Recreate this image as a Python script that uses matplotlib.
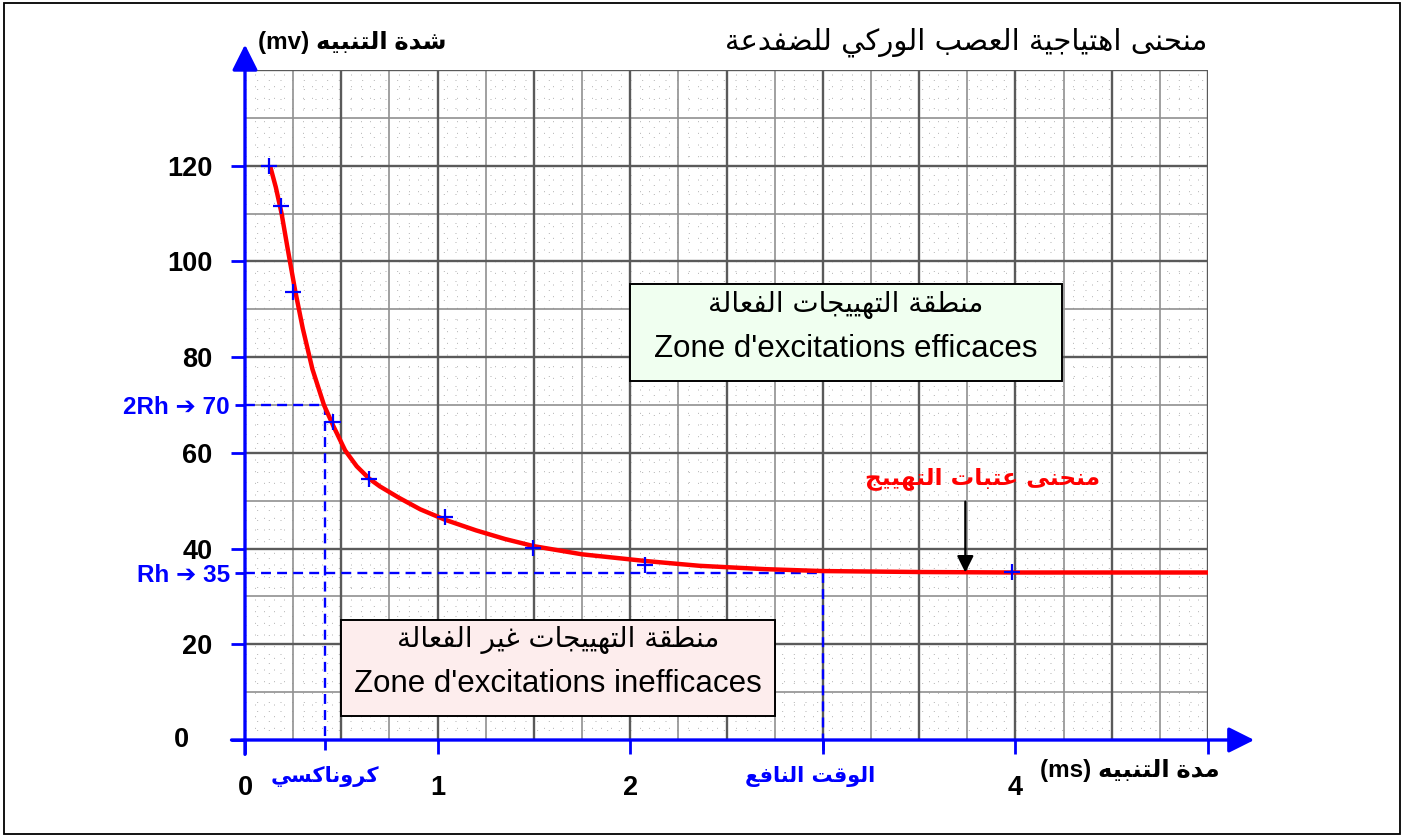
import matplotlib
matplotlib.use("Agg")
import matplotlib.pyplot as plt
from matplotlib.patches import Rectangle
import numpy as np

# ---------------- data ----------------
curve_t = [0.13, 0.16, 0.19, 0.22, 0.26, 0.30, 0.35, 0.41, 0.46, 0.52, 0.58, 0.645,
           0.70, 0.80, 0.91, 1.04, 1.20, 1.35, 1.50, 1.75, 2.08, 2.36, 2.70, 3.00,
           3.50, 4.00, 4.50, 5.00]
curve_i = [120, 115.5, 110, 103, 94, 86, 77.5, 70, 65.5, 60.5, 57.2, 54.6,
           53.0, 50.6, 48.2, 46.0, 43.8, 42.0, 40.5, 38.8, 37.4, 36.4, 35.7, 35.3,
           35.1, 35.0, 35.0, 35.0]
meas_t = [0.126, 0.185, 0.25, 0.458, 0.645, 1.038, 1.496, 2.076, 3.98]
meas_i = [120, 111.5, 93.6, 66.4, 54.6, 46.5, 40.2, 36.5, 35.1]

rheobase = 35
chronaxie = 0.415
useful_time = 3.0

x_ticks = [0, 1, 2, 3, 4, 5]
x_labels = ["0", "1", "2", "", "4", ""]
y_ticks = [0, 20, 40, 60, 80, 100, 120]
y_labels = ["", "20", "40", "60", "80", "100", "120"]

title_txt = "منحنى اهتياجية العصب الوركي للضفدعة"
ylab_ar = "شدة التنبيه"
xlab_ar = "مدة التنبيه"
chron_txt = "كروناكسي"
useful_txt = "الوقت النافع"
curve_txt = "منحنى عتبات التهييج"
eff_ar = "منطقة التهييجات الفعالة"
eff_fr = "Zone d'excitations efficaces"
ineff_ar = "منطقة التهييجات غير الفعالة"
ineff_fr = "Zone d'excitations inefficaces"

# ------------- Arabic shaping (presentation forms + visual order) -------------
_DUAL = {0x0628: 0xFE8F, 0x062A: 0xFE95, 0x062B: 0xFE99, 0x062C: 0xFE9D, 0x062D: 0xFEA1,
         0x062E: 0xFEA5, 0x0633: 0xFEB1, 0x0634: 0xFEB5, 0x0635: 0xFEB9, 0x0636: 0xFEBD,
         0x0637: 0xFEC1, 0x0638: 0xFEC5, 0x0639: 0xFEC9, 0x063A: 0xFECD, 0x0641: 0xFED1,
         0x0642: 0xFED5, 0x0643: 0xFED9, 0x0644: 0xFEDD, 0x0645: 0xFEE1, 0x0646: 0xFEE5,
         0x0647: 0xFEE9, 0x064A: 0xFEF1}
_RIGHT = {0x0622: 0xFE81, 0x0623: 0xFE83, 0x0625: 0xFE87, 0x0627: 0xFE8D, 0x0629: 0xFE93,
          0x062F: 0xFEA9, 0x0630: 0xFEAB, 0x0631: 0xFEAD, 0x0632: 0xFEAF, 0x0648: 0xFEED,
          0x0649: 0xFEEF}
_LAMALEF = {0x0622: 0xFEF5, 0x0623: 0xFEF7, 0x0625: 0xFEF9, 0x0627: 0xFEFB}


def _is_ar(c):
    return c is not None and (ord(c) in _DUAL or ord(c) in _RIGHT)


def ar(text):
    chars = list(text)
    out = []
    i = 0
    n = len(chars)
    while i < n:
        c = chars[i]
        o = ord(c)
        prev = chars[i - 1] if i > 0 else None
        joins_prev = prev is not None and ord(prev) in _DUAL
        if o == 0x0644 and i + 1 < n and ord(chars[i + 1]) in _LAMALEF:
            base = _LAMALEF[ord(chars[i + 1])]
            out.append(chr(base + (1 if joins_prev else 0)))
            i += 2
            continue
        if o in _DUAL:
            nxt = chars[i + 1] if i + 1 < n else None
            joins_next = _is_ar(nxt)
            if joins_prev and joins_next:
                f = 3
            elif joins_prev:
                f = 1
            elif joins_next:
                f = 2
            else:
                f = 0
            out.append(chr(_DUAL[o] + f))
        elif o in _RIGHT:
            out.append(chr(_RIGHT[o] + (1 if joins_prev else 0)))
        else:
            out.append(c)
        i += 1
    return "".join(reversed(out))


AR = ["DejaVu Sans"]
LAT = ["Liberation Sans", "DejaVu Sans"]
BLUE = "#0000FF"

# ---------------- figure ----------------
fig = plt.figure(figsize=(14.05, 8.38), dpi=100)
fig.patch.set_facecolor("white")
fig.add_artist(Rectangle((0.003, 0.005), 0.9935, 0.9915, transform=fig.transFigure,
                         fill=False, edgecolor="black", lw=1.3))

ax = fig.add_axes([245 / 1405, 98 / 838, 963 / 1405, 670 / 838])
ax.set_xlim(0, 5)
ax.set_ylim(0, 140)
for s in ax.spines.values():
    s.set_visible(False)
ax.set_facecolor("white")

# grid (millimetre paper)
dots = (0, (1, 11))
for k in range(1, 101):
    x = k * 0.05
    if k % 10 == 0:
        ax.axvline(x, color="#5a5a5a", lw=1.7, zorder=0.5)
    elif k % 5 == 0:
        ax.axvline(x, color="#909090", lw=1.2, zorder=0.4)
    else:
        ax.axvline(x, color="#b0b0b0", lw=0.7, ls=dots, zorder=0.3)
for k in range(1, 71):
    y = k * 2
    if k % 10 == 0:
        ax.axhline(y, color="#5a5a5a", lw=1.7, zorder=0.5)
    elif k % 5 == 0:
        ax.axhline(y, color="#909090", lw=1.2, zorder=0.4)
    else:
        ax.axhline(y, color="#b0b0b0", lw=0.7, ls=dots, zorder=0.3)

# dashed construction lines
dash = (0, (4.2, 2.6))
ax.plot([0, chronaxie], [2 * rheobase, 2 * rheobase], color=BLUE, lw=1.7, ls=dash, zorder=2)
ax.plot([chronaxie, chronaxie], [2 * rheobase, 0], color=BLUE, lw=1.7, ls=dash, zorder=2)
ax.plot([0, useful_time], [rheobase, rheobase], color=BLUE, lw=1.7, ls=dash, zorder=2)
ax.plot([useful_time, useful_time], [rheobase, 0], color=BLUE, lw=1.7, ls=dash, zorder=2)

# threshold curve and measurements
ax.plot(curve_t, curve_i, color="#FF0000", lw=3.2, zorder=3, solid_capstyle="butt")
ax.plot(meas_t, meas_i, ls="none", marker="+", ms=12, mew=1.6, color=BLUE, zorder=4)

# boxes
ax.add_patch(Rectangle((2.0, 75.0), 2.242, 20.3, facecolor="#F0FFF0", edgecolor="black",
                       lw=1.4, zorder=5))
ax.text(3.12, 90.8, ar(eff_ar), family=AR, fontsize=20, ha="center", va="center", zorder=6)
ax.text(3.12, 81.8, eff_fr, family=LAT, fontsize=22.5, ha="center", va="center", zorder=6)

ax.add_patch(Rectangle((0.498, 5.0), 2.254, 20.1, facecolor="#FDEDED", edgecolor="black",
                       lw=1.4, zorder=5))
ax.text(1.625, 21.0, ar(ineff_ar), family=AR, fontsize=20, ha="center", va="center", zorder=6)
ax.text(1.625, 11.8, ineff_fr, family=LAT, fontsize=22.5, ha="center", va="center", zorder=6)

# curve label and arrow
ax.text(3.83, 54.7, ar(curve_txt), family=AR, fontsize=16.8, fontweight="bold",
        color="#FF0000", ha="center", va="center", zorder=6)
ax.annotate("", xy=(3.74, rheobase), xytext=(3.74, 49.8),
            arrowprops=dict(arrowstyle="-|>,head_length=0.5,head_width=0.25",
                            color="black", lw=1.6, mutation_scale=20, shrinkA=0, shrinkB=0),
            zorder=6)

# axes with arrows
ax.annotate("", xy=(5.24, 0), xytext=(-0.07, 0), xycoords="data", annotation_clip=False,
            arrowprops=dict(arrowstyle="-|>,head_length=0.6,head_width=0.3", color=BLUE,
                            lw=2.4, mutation_scale=26, shrinkA=0, shrinkB=0), zorder=7)
ax.annotate("", xy=(0, 145.3), xytext=(0, -3.0), xycoords="data", annotation_clip=False,
            arrowprops=dict(arrowstyle="-|>,head_length=0.6,head_width=0.3", color=BLUE,
                            lw=2.4, mutation_scale=26, shrinkA=0, shrinkB=0), zorder=7)

# ticks
ax.xaxis.remove_overlapping_locs = False
ax.yaxis.remove_overlapping_locs = False
ax.set_xticks(x_ticks, labels=x_labels)
ax.set_yticks(y_ticks, labels=y_labels)
ax.set_xticks([chronaxie, useful_time], labels=[ar(chron_txt), ""], minor=True)
ax.set_yticks([rheobase, 2 * rheobase], labels=["Rh ➔ 35", "2Rh ➔ 70"], minor=True)
ax.tick_params(which="major", direction="out", length=10, width=2, color=BLUE)
ax.tick_params(which="minor", direction="out", length=7.5, width=2, color=BLUE)
ax.tick_params(axis="x", which="major", pad=15)
ax.tick_params(axis="y", which="major", pad=13.5)
ax.tick_params(axis="x", which="minor", pad=11)
ax.tick_params(axis="y", which="minor", pad=3.5)
for lb in ax.get_xticklabels() + ax.get_yticklabels():
    lb.set_fontfamily(LAT)
    lb.set_fontweight("bold")
    lb.set_fontsize(19.5)
for lb in ax.get_xticklabels(minor=True):
    lb.set_fontfamily(AR)
    lb.set_fontweight("bold")
    lb.set_fontsize(15)
    lb.set_color(BLUE)
for lb in ax.get_yticklabels(minor=True):
    lb.set_fontfamily(LAT)
    lb.set_fontweight("bold")
    lb.set_fontsize(17.5)
    lb.set_color(BLUE)
ax.annotate("0", xy=(0, 0), xytext=(-40, 0), textcoords="offset points", ha="right",
            va="center", family=LAT, fontweight="bold", fontsize=19.5, annotation_clip=False)
ax.annotate(ar(useful_txt), xy=(useful_time, 0), xytext=(-9, -26.5), textcoords="offset points",
            ha="center", va="center", family=AR, fontweight="bold", fontsize=15, color=BLUE,
            annotation_clip=False)

# titles / axis names
fig.text(1207 / 1405, 1 - 42 / 838, ar(title_txt), family=AR, fontsize=21, ha="right", va="center")
fig.text(258 / 1405, 1 - 42 / 838, "(mv) " + ar(ylab_ar), family=LAT, fontsize=17.5,
         fontweight="bold", ha="left", va="center")
fig.text(1220 / 1405, 1 - 770 / 838, "(ms) " + ar(xlab_ar), family=LAT, fontsize=17.5,
         fontweight="bold", ha="right", va="center")

fig.savefig("out.png", dpi=100, facecolor="white")
